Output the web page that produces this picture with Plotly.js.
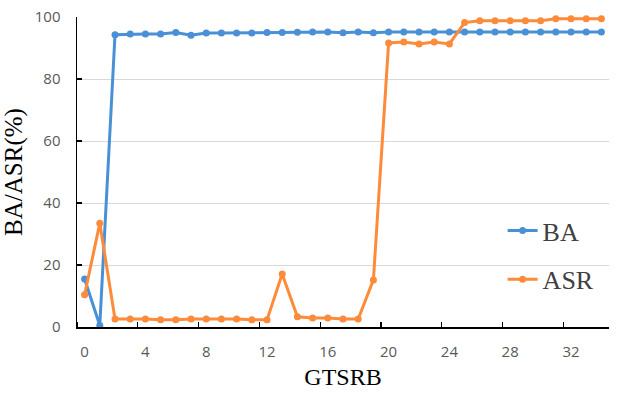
<!DOCTYPE html>
<html>
<head>
<meta charset="utf-8">
<script src="https://cdn.plot.ly/plotly-3.0.1.min.js"></script>
<style>
  html, body { margin: 0; padding: 0; background: #fff; }
  #chart { width: 618px; height: 393px; }
</style>
</head>
<body>
<div id="chart"></div>
<script>
// rounds 0..34
var rounds = [];
for (var r = 0; r <= 34; r++) rounds.push(r);

var baValues = [15.5, 0.5, 94.3, 94.5, 94.5, 94.5, 95.0, 94.1, 94.8, 94.8, 94.8, 94.8,
                95.0, 95.0, 95.1, 95.2, 95.2, 94.9, 95.2, 94.9, 95.2, 95.2, 95.2, 95.2,
                95.2, 95.2, 95.2, 95.2, 95.2, 95.2, 95.2, 95.2, 95.2, 95.2, 95.2];

var asrValues = [10.4, 33.5, 2.6, 2.6, 2.6, 2.3, 2.3, 2.6, 2.6, 2.6, 2.6, 2.3,
                 2.3, 17.1, 3.3, 2.9, 2.9, 2.6, 2.6, 15.2, 91.6, 91.9, 91.3, 91.9,
                 91.3, 98.2, 98.8, 98.8, 98.8, 98.8, 98.8, 99.4, 99.4, 99.4, 99.4];

var xLabels = [0, 4, 8, 12, 16, 20, 24, 28, 32];

var tickFont = {family: 'Open Sans, Liberation Sans, sans-serif', size: 15, color: '#595959'};
var serif = 'Liberation Serif, Times New Roman, serif';

var traces = [
    {
        x: rounds,
        y: baValues,
        name: 'BA',
        type: 'scatter',
        mode: 'lines+markers',
        line: {color: '#4a90d6', width: 3},
        marker: {color: '#4a90d6', size: 7},
        cliponaxis: false,
        legendgroup: 'a'
    },
    {
        x: rounds,
        y: asrValues,
        name: 'ASR',
        type: 'scatter',
        mode: 'lines+markers',
        line: {color: '#fd8b3a', width: 3},
        marker: {color: '#fd8b3a', size: 7},
        cliponaxis: false,
        legendgroup: 'b'
    }
];

var layout = {
    width: 618,
    height: 393,
    margin: {l: 77, r: 9, t: 17, b: 66},
    paper_bgcolor: '#ffffff',
    plot_bgcolor: '#ffffff',
    showlegend: true,
    legend: {
        x: 0.8, y: 0.232,
        xanchor: 'left', yanchor: 'middle',
        bgcolor: 'rgba(0,0,0,0)',
        font: {family: serif, size: 26, color: '#404040'},
        tracegroupgap: 12,
        itemwidth: 30
    },
    xaxis: {
        range: [-0.5, 34.5],
        tickmode: 'array',
        tickvals: xLabels,
        ticktext: xLabels.map(String),
        ticks: '',
        ticklabelstandoff: 10,
        tickfont: tickFont,
        showgrid: false,
        zeroline: false,
        showline: true,
        linecolor: '#000000',
        linewidth: 1.5,
        minor: {
            tickmode: 'linear',
            tick0: 3.5,
            dtick: 4,
            ticks: 'inside',
            ticklen: 5,
            tickwidth: 1.3,
            tickcolor: '#000000',
            showgrid: false
        },
        title: {text: 'GTSRB', font: {family: serif, size: 24, color: '#000000'}, standoff: 8}
    },
    yaxis: {
        range: [0, 100],
        tickmode: 'linear',
        tick0: 0,
        dtick: 20,
        ticks: 'inside',
        ticklen: 5,
        tickwidth: 1.3,
        tickcolor: '#000000',
        ticklabelstandoff: 12,
        tickfont: tickFont,
        showgrid: true,
        gridcolor: '#d9d9d9',
        gridwidth: 1,
        zeroline: false,
        showline: true,
        linecolor: '#000000',
        linewidth: 1.5,
        title: {text: 'BA/ASR(%)', font: {family: serif, size: 25, color: '#000000'}, standoff: 8}
    }
};

Plotly.newPlot('chart', traces, layout, {displayModeBar: false, staticPlot: true});
</script>
</body>
</html>
